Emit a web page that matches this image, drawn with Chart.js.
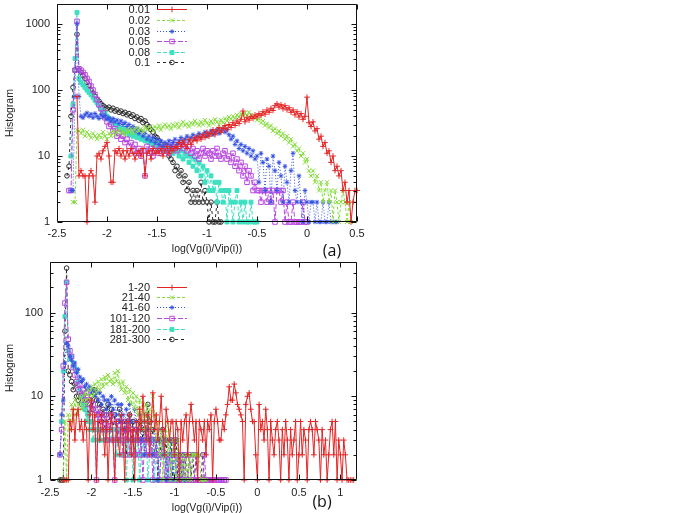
<!DOCTYPE html>
<html><head><meta charset="utf-8">
<script src="https://cdn.jsdelivr.net/npm/chart.js@4.4.0/dist/chart.umd.min.js"></script>
<style>
html,body{margin:0;padding:0;background:#fff;}
body{width:685px;height:513px;position:relative;overflow:hidden;font-family:"Liberation Sans",Arial,sans-serif;}
canvas{position:absolute;left:0;}
#ca{top:0}
#cb{top:258px}
.t{position:absolute;transform:translate(-50%,-50%);white-space:nowrap;color:#222;font-size:10.5px;}
.rot{transform:translate(-50%,-50%) rotate(-90deg);}
.tag{font-size:16px;font-family:"Open Sans","Liberation Sans",sans-serif;color:#111;}
</style></head>
<body>
<canvas id="ca" width="380" height="258"></canvas>
<canvas id="cb" width="380" height="255"></canvas>
<div class="t rot" style="left:9px;top:113px">Histogram</div>
<div class="t" style="left:207px;top:248px">log(Vg(i)/Vip(i))</div>
<div class="t tag" style="left:332px;top:250px">(a)</div>
<div class="t rot" style="left:9px;top:368px">Histogram</div>
<div class="t" style="left:207px;top:507px">log(Vg(i)/Vip(i))</div>
<div class="t tag" style="left:322px;top:501px">(b)</div>
<script>
// ---------- data ----------
const binWidth = 0.02;

// panel (a)
const labelsA = ['0.01', '0.02', '0.03', '0.05', '0.08', '0.1'];
const startA = [-2.30, -2.34, -2.36, -2.38, -2.36, -2.40];
const a001 = [80,5,6,5,5,1,5,6,5,2, 10,11,9,12,14,16,10,4,4,12, 11,13,10,12,9,12,10,13,11,9,
  11,12,10,13,5,11,12,9,13,11, 12,11,13,10,12,14,11,13,12,14, 13,16,14,17,15,13,18,15,17,19,
  17,20,18,21,19,23,20,22,25,21, 24,27,23,26,29,25,30,27,32,29, 34,31,36,48,33,38,35,40,37,42,
  39,44,41,47,43,50,46,53,49,58, 62,55,60,52,58,50,54,46,50,42, 47,39,44,36,40,78,32,28,33,24,
  26,18,20,14,16,11,12,8,10,6, 7,5,6,3,4,2,3,1,2,3, 3];
const a002 = [2,2,25,24,22,25,20,23,21,19, 22,20,18,21,19,23,20,18,22,20, 24,21,23,25,22,24,21,25,23,26,
  22,25,27,24,26,23,27,25,28,26, 24,28,26,29,25,28,30,27,29,26, 30,28,31,27,30,33,29,31,28,32,
  30,34,31,29,33,30,35,32,29,34, 31,36,33,30,35,32,37,34,39,36, 40,37,42,39,44,40,45,41,46,42,
  38,40,35,37,32,34,29,31,27,29, 24,26,22,24,20,22,18,20,16,18, 14,15,12,13,10,11,8,9,6,5,
  6,4,5,3,4,2,3,4,2,3, 1,3,2,1,2,3,2,1,2,1];
const a003 = [3,3,80,1000,80,40,38,42,45,40, 43,38,44,40,37,42,39,41,36,38, 34,37,33,35,31,34,30,32,28,30,
  26,28,24,26,22,24,20,22,18,20, 17,19,16,18,15,17,14,16,15,17, 14,16,18,15,17,19,16,18,20,17,
  19,21,18,20,22,19,21,23,20,22, 24,21,23,25,22,24,26,23,25,21, 18,20,15,17,13,15,12,14,11,13,
  10,12,9,10,4,11,8,3,9,7, 2,10,6,3,8,5,2,7,4,2, 6,11,3,2,5,2,1,3,2,1,
  2,2,1,2,1,1,2,1,1,2, 1,1,1,1];
const a005 = [3,3,50,200,1100,210,200,185,170,150, 135,115,100,85,72,60,52,45,38,33, 28,30,24,26,20,22,18,20,16,18,
  14,16,12,15,11,13,10,12,5,14, 11,13,10,12,14,11,13,15,12,14, 11,16,13,15,12,14,16,13,15,12,
  14,11,13,10,12,9,11,13,10,12, 11,9,12,10,13,10,9,11,12,9, 10,8,11,7,9,6,8,5,7,4,
  6,5,3,4,3,3,2,3,3,2, 3,2,3,1,3,3,2,3,1,2, 1,1,2,1,1,1,1,2,1,1];
const a008 = [10,60,300,1500,150,130,120,110,100,92, 85,78,70,64,58,52,48,44,40,37, 34,32,30,28,27,25,26,23,24,21,
  22,20,21,19,20,18,19,17,18,16, 17,15,16,14,15,13,14,12,13,12, 14,11,13,12,10,12,9,11,10,8,
  10,7,9,6,8,5,7,4,6,3, 5,3,4,2,4,3,2,3,1,3, 2,1,2,3,1,2,1,2,1,1, 2,1,1,1];
const a01 = [5,7,40,110,200,700,200,185,165,150, 130,118,100,90,80,72,68,62,58,55, 52,55,50,53,48,50,46,48,44,46,
  42,44,40,42,37,39,35,37,32,34, 30,28,25,23,20,19,17,15,14,12, 13,10,9,8,6,7,5,6,4,5,
  3,4,2,3,2,3,2,4,2,3, 2,1,2,1,1,2,1,1];
const valuesA = [a001, a002, a003, a005, a008, a01];
const xTicksA = [-2.5, -2, -1.5, -1, -0.5, 0, 0.5];
const yTicksA = [1, 10, 100, 1000];

// panel (b)
const labelsB = ['1-20', '21-40', '41-60', '101-120', '181-200', '281-300'];
const startB = [-2.34, -2.34, -2.38, -2.38, -2.36, -2.38];
const b1 = [1,1,1,1,5,4,7,3,6,7, 4,5,3,5,4,1,6,9,4,6, 1,5,3,6,4,2,5,1,4,6, 3,1,5,3,2,6,4,1,5,3,
  6,2,4,1,5,3,7,4,10,5, 3,6,2,5,11,4,6,3,5,10, 4,2,7,5,3,5,5,2,5,4, 1,5,3,5,6,2,5,8,5,3,
  5,1,5,4,3,5,2,5,4,6, 1,5,7,5,3,3,5,4,6,8, 13,9,9,14,11,8,7,6,5,1, 8,10,11,7,5,5,2,1,8,4,
  5,3,7,4,1,5,3,2,4,5, 3,1,4,2,5,3,1,4,2,3, 5,1,2,5,2,4,3,1,4,5, 4,2,5,4,3,1,4,2,3,1,
  2,4,5,2,5,1,3,2,1,3, 2,1,1,1,1,1];
const b2 = [1,5,1,6,4,8,5,9,6,8, 10,7,9,11,8,12,9,13,10,14, 11,15,12,16,13,17,14,18,15,16,
  14,19,15,20,14,12,15,11,13,9, 12,8,11,7,10,6,9,5,8,4, 8,5,7,4,10,6,3,5,2,4,
  1,3,5,2,4,1,3,2,1,3, 2,1,2,1,2,1,2,1,2,2, 2,2,2,1,1,1,1];
const b3 = [2,6,9,25,43,40,30,27,23,25, 19,21,17,15,16,13,14,12,13,11, 12,10,11,9,11,8,10,9,7,9,
  8,10,7,9,6,8,5,8,6,4, 7,5,8,5,3,7,5,4,6,3, 5,2,5,4,3,5,2,4,3,1, 3,4,2,3,1,3,2,3,1,2, 3,1,2,1,2,1,1];
const b4 = [2,4,23,130,230,48,35,30,22,18, 15,12,14,10,12,9,11,8,9,7, 8,6,1,7,5,6,4,6,3,5,
  4,6,3,1,5,4,3,5,2,4, 3,5,2,4,3,2,4,3,2,3, 1,3,2,4,2,3,1,2,3,2, 1,2,3,1,2,1,2,1,2,3,
  1,2,1,2,1,2,1,1,2,1, 1,1,2,1,1,1,1,2,1,1, 1,1,1,1,1,1,1,1,1,1, 1];
const b5 = [5,20,90,230,35,28,30,25,22,20, 15,12,10,8,7,5,6,4,5,3, 4,3,4,3,4,3,4,3,3,4,
  3,4,3,2,3,4,3,2,3,1, 3,2,3,1,3,2,3,1,2,3, 2,3,1,2,3,2,1,3,2,1, 2,3,2,1,2,1,2,2,1,2, 2,1,2,1];
const b6 = [1,1,1,60,340,20,18,15,12,14, 10,9,11,8,10,7,9,6,8,10, 7,12,9,6,8,5,7,4,6,8,
  5,7,4,6,3,5,7,4,3,5, 2,4,6,3,5,2,4,3,5,2, 4,3,6,8,5,3,4,2,3,1, 3,2,4,2,3,1,2,3,1,2,
  3,1,2,1,2,1,2,1,2,1, 2,1,2,1,1,1,2,1,1,1,1,1];
const valuesB = [b1, b2, b3, b4, b5, b6];
const xTicksB = [-2.5, -2, -1.5, -1, -0.5, 0, 0.5, 1];
const yTicksB = [1, 10, 100];

// ---------- styles ----------
const seriesColors = ['#e42424', '#86dc3c', '#3553e2', '#b848e0', '#3fe0c2', '#2a2a2a'];
const seriesPoint = ['cross', 'crossRot', 'star', 'rect', 'rect', 'circle'];
const seriesFilled = [false, false, true, false, true, false];
const seriesDash = [[], [3, 2], [1, 2], [5, 2], [4, 2], [3, 3]];
const seriesRadius = [2.8, 3, 2.3, 3.2, 2.8, 2.3];
const FONT = '"Liberation Sans", Arial, sans-serif';

Chart.defaults.font.family = FONT;

function buildSets(labels, starts, values) {
  return values.map((vals, s) => ({
    label: labels[s],
    data: vals.map((v, i) => ({ x: +(starts[s] + i * binWidth).toFixed(2), y: v })),
    borderColor: seriesColors[s],
    backgroundColor: seriesColors[s],
    pointBackgroundColor: seriesFilled[s] ? seriesColors[s] : 'rgba(0,0,0,0)',
    pointBorderColor: seriesColors[s],
    pointStyle: seriesPoint[s],
    pointRadius: seriesRadius[s],
    pointBorderWidth: 1,
    pointHoverRadius: 0,
    borderWidth: 1,
    borderDash: seriesDash[s],
    tension: 0,
    fill: false,
    clip: false
  }));
}

const framePlugin = {
  id: 'gpFrame',
  afterDatasetsDraw(chart) {
    const { ctx, chartArea: a } = chart;
    const xs = chart.scales.x, ys = chart.scales.y;
    const L = Math.round(a.left) + 0.5, R = Math.round(a.right) - 0.5;
    const T = Math.round(a.top) + 0.5, B = Math.round(a.bottom) - 0.5;
    ctx.save();
    ctx.strokeStyle = '#111';
    ctx.lineWidth = 1;
    ctx.setLineDash([]);
    ctx.beginPath();
    ctx.rect(L, T, R - L, B - T);
    xs.ticks.forEach(t => {
      const p = Math.round(xs.getPixelForValue(t.value)) + 0.5;
      ctx.moveTo(p, B); ctx.lineTo(p, B - 5);
      ctx.moveTo(p, T); ctx.lineTo(p, T + 5);
    });
    for (let d = 1; d <= ys.max; d *= 10) {
      for (let m = 1; m <= 9; m++) {
        const v = m * d;
        if (v > ys.max) break;
        const p = Math.round(ys.getPixelForValue(v)) + 0.5;
        const len = m === 1 ? 5 : 3;
        ctx.moveTo(L, p); ctx.lineTo(L + len, p);
        ctx.moveTo(R, p); ctx.lineTo(R - len, p);
      }
    }
    ctx.stroke();
    ctx.restore();
  }
};

const legendPlugin = {
  id: 'gpLegend',
  afterDraw(chart, args, o) {
    const ctx = chart.ctx;
    ctx.save();
    chart.data.datasets.forEach((ds, i) => {
      const y = o.rows[i] + 0.5;
      ctx.font = '11px ' + FONT;
      ctx.textAlign = 'right';
      ctx.textBaseline = 'middle';
      ctx.fillStyle = '#222';
      ctx.fillText(ds.label, o.textRight, y);
      ctx.strokeStyle = ds.borderColor;
      ctx.lineWidth = 1;
      ctx.setLineDash(ds.borderDash || []);
      ctx.beginPath(); ctx.moveTo(o.x1, y); ctx.lineTo(o.x2, y); ctx.stroke();
      ctx.setLineDash([]);
      ctx.fillStyle = ds.pointBackgroundColor;
      if (Chart.helpers && Chart.helpers.drawPoint) {
        Chart.helpers.drawPoint(ctx, { pointStyle: ds.pointStyle, radius: ds.pointRadius, rotation: 0, borderWidth: 1 }, (o.x1 + o.x2) / 2, y);
      }
    });
    ctx.restore();
  }
};

function makeChart(id, labels, starts, values, xMin, xMax, xTicks, yMax, yTicks, yWidth, xHeight, xPad, legendOpts) {
  const zeroPad = s => { s.paddingTop = 0; s.paddingBottom = 0; s.paddingLeft = 0; s.paddingRight = 0; };
  return new Chart(document.getElementById(id), {
    type: 'line',
    data: { datasets: buildSets(labels, starts, values) },
    options: {
      responsive: false,
      animation: false,
      events: [],
      layout: { padding: { left: 0, right: 23, top: 4, bottom: 0 } },
      plugins: { legend: { display: false }, tooltip: { enabled: false }, gpLegend: legendOpts },
      scales: {
        x: {
          type: 'linear', min: xMin, max: xMax,
          afterBuildTicks: s => { s.ticks = xTicks.map(v => ({ value: v })); },
          afterFit: s => { s.height = xHeight; zeroPad(s); },
          ticks: { callback: v => String(v), color: '#222', font: { size: 11 }, padding: xPad, maxRotation: 0, autoSkip: false },
          grid: { display: false, drawTicks: false },
          border: { display: false }
        },
        y: {
          type: 'logarithmic', min: 1, max: yMax,
          afterBuildTicks: s => { s.ticks = yTicks.map(v => ({ value: v })); },
          afterFit: s => { s.width = yWidth; zeroPad(s); },
          ticks: { callback: v => String(v), color: '#222', font: { size: 11 }, padding: 7, autoSkip: false },
          grid: { display: false, drawTicks: false },
          border: { display: false }
        }
      }
    },
    plugins: [framePlugin, legendPlugin]
  });
}

makeChart('ca', labelsA, startA, valuesA, -2.5, 0.5, xTicksA, 2000, yTicksA, 57, 36, 5,
  { textRight: 150, x1: 157, x2: 187, rows: [9, 20, 31, 41, 52, 62] });
makeChart('cb', labelsB, startB, valuesB, -2.5, 1.2, xTicksB, 400, yTicksB, 50, 33, 6,
  { textRight: 150, x1: 157, x2: 187, rows: [29, 39, 49, 60, 71, 81] });
</script>
</body></html>
